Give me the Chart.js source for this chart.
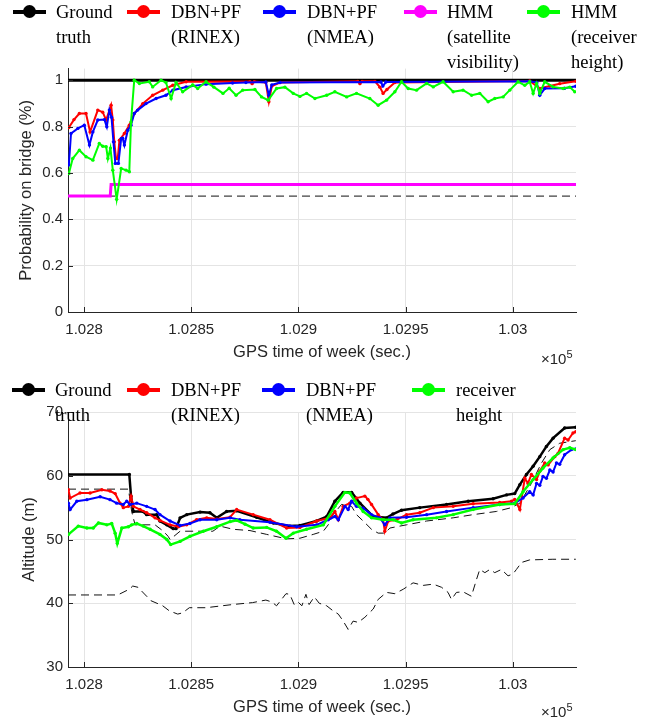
<!DOCTYPE html>
<html>
<head>
<meta charset="utf-8">
<script src="https://cdn.jsdelivr.net/npm/chart.js@4.4.1/dist/chart.umd.min.js"></script>
<style>
  body { margin: 0; background: #fff; width: 654px; height: 721px; overflow: hidden; position: relative; }
  canvas { position: absolute; left: 0; }
  #topChart { top: 0; }
  #altChart { top: 375px; }
  .leg { position: absolute; font-family: "Liberation Serif", "Times New Roman", serif; font-size: 18.5px; line-height: 25px; color: #000; white-space: nowrap; }
  .mk { position: absolute; width: 33px; height: 4px; }
  .mk i { position: absolute; left: 10px; top: -5px; width: 13px; height: 13px; border-radius: 50%; background: inherit; }
  .exp { position: absolute; font-family: "Liberation Sans", Arial, sans-serif; font-size: 15px; color: #262626; }
  .exp sup { font-size: 11px; }
</style>
</head>
<body>
<canvas id="topChart" width="654" height="370"></canvas>
<canvas id="altChart" width="654" height="346"></canvas>
<div class="exp" style="left:541px; top:348px">×10<sup>5</sup></div>
<div class="exp" style="left:541px; top:701px">×10<sup>5</sup></div>
<script>
// ---- axis ticks ----
const xTickVals = [102800, 102850, 102900, 102950, 103000];
const xTickLabels = ['1.028', '1.0285', '1.029', '1.0295', '1.03'];
const probTicks = [0, 0.2, 0.4, 0.6, 0.8, 1];
const probLabels = ['0', '0.2', '0.4', '0.6', '0.8', '1'];
const altTicks = [30, 40, 50, 60, 70];

// ---- top: probability on bridge ----
const gtTopT = [102792.5, 103029.5];
const gtTopV = [1, 1];
const rinexTopT = [102792.9, 102795.3, 102797.8, 102800.9, 102802.8, 102806.4, 102808.7, 102810.3, 102812.6, 102813.4,
  102814.1, 102814.9, 102815.7, 102816.5, 102818.8, 102821.1, 102823.4, 102827.4, 102832.0, 102836.7,
  102841.4, 102847.6, 102877.4, 102878.4, 102879.4, 102884.8, 102886.2, 102887.6, 102891.4, 102927.7,
  102928.7, 102929.7, 102935.7, 102938.0, 102939.5, 102941.3, 102945.0, 103007.9, 103012.6, 103017.3,
  103021.9, 103029.4];
const rinexTopV = [0.796, 0.83, 0.856, 0.856, 0.777, 0.871, 0.862, 0.828, 0.892, 0.828,
  0.734, 0.662, 0.662, 0.741, 0.770, 0.806, 0.856, 0.899, 0.935, 0.957,
  0.978, 0.993, 0.994, 0.985, 0.994, 0.990, 0.907, 0.975, 0.990, 0.995,
  0.985, 0.995, 0.995, 0.970, 0.943, 0.960, 0.990, 0.997, 0.964, 0.975,
  0.985, 0.995];
const nmeaTopT = [102792.9, 102793.9, 102797.1, 102800.1, 102802.5, 102804.1, 102806.4, 102809.5, 102810.6, 102811.8,
  102812.8, 102813.7, 102814.6, 102816.0, 102817.3, 102818.0, 102818.8, 102820.4, 102821.9, 102823.4,
  102825.0, 102828.9, 102833.6, 102838.2, 102841.4, 102847.6, 102856.9, 102869.3, 102875.5, 102884.8,
  102886.2, 102887.6, 102891.4, 102938.5, 102939.4, 102940.8, 103007.9, 103011.2, 103012.6, 103014.9,
  103024.2, 103029.4];
const nmeaTopV = [0.634, 0.770, 0.792, 0.806, 0.720, 0.777, 0.828, 0.830, 0.799, 0.871,
  0.840, 0.734, 0.641, 0.641, 0.748, 0.750, 0.720, 0.784, 0.806, 0.856,
  0.871, 0.899, 0.921, 0.935, 0.957, 0.971, 0.983, 0.988, 0.990, 0.992,
  0.935, 0.980, 0.990, 0.992, 0.975, 0.992, 0.995, 0.990, 0.935, 0.964,
  0.965, 0.974];
const visTopT = [102792.5, 102812.2, 102812.6, 103029.5];
const visTopV = [0.5, 0.5, 0.55, 0.55];
const heightTopT = [102792.9, 102794.7, 102797.8, 102800.9, 102804.1, 102807.1, 102808.7, 102810.3, 102811.1, 102812.3,
  102813.4, 102815.2, 102817.3, 102819.6, 102821.1, 102821.9, 102823.4, 102825.8, 102830.4, 102832.0,
  102835.9, 102838.2, 102840.6, 102842.9, 102846.0, 102850.7, 102853.0, 102856.9, 102860.6, 102864.8,
  102867.7, 102870.9, 102874.0, 102879.7, 102882.8, 102885.9, 102889.8, 102893.7, 102897.6, 102900.7,
  102903.8, 102907.7, 102913.2, 102917.0, 102922.5, 102927.1, 102933.3, 102937.2, 102941.1, 102945.0,
  102948.1, 102951.2, 102955.1, 102959.8, 102962.9, 102967.5, 102972.2, 102976.8, 102980.8, 102984.6,
  102988.5, 102991.6, 102995.5, 102998.6, 103002.5, 103005.6, 103007.9, 103009.5, 103011.1, 103012.6,
  103014.9, 103018.8, 103023.5, 103026.6, 103028.9];
const heightTopV = [0.598, 0.662, 0.698, 0.670, 0.655, 0.727, 0.715, 0.713, 0.662, 0.707,
  0.612, 0.486, 0.619, 0.612, 0.605, 0.820, 1.000, 0.986, 0.993, 0.971,
  1.000, 0.990, 0.921, 0.990, 0.950, 0.980, 0.964, 0.993, 0.970, 0.943,
  0.965, 0.935, 0.957, 0.960, 0.928, 0.914, 0.964, 0.970, 0.943, 0.930,
  0.943, 0.921, 0.935, 0.950, 0.928, 0.943, 0.921, 0.892, 0.914, 0.950,
  0.993, 0.964, 0.957, 0.986, 0.971, 0.993, 0.950, 0.957, 0.935, 0.943,
  0.907, 0.921, 0.928, 0.957, 0.993, 0.978, 0.993, 0.943, 0.986, 0.943,
  0.993, 0.971, 0.964, 0.970, 0.950];
const threshT = [102792.5, 103029.5];
const threshV = [0.5, 0.5];

// ---- bottom: altitude ----
const gtAltT = [102792.5, 102821.1, 102821.9, 102823.0, 102827.5, 102829.2, 102833.9, 102835.4, 102838.6, 102841.6,
  102842.9, 102844.8, 102847.9, 102854.1, 102858.7, 102861.9, 102866.5, 102871.2, 102880.5, 102888.3,
  102896.0, 102900.7, 102908.5, 102913.2, 102917.0, 102920.9, 102924.8, 102928.7, 102934.9, 102941.1,
  102944.1, 102948.1, 102956.6, 102969.1, 102979.2, 102990.8, 102997.1, 103000.9, 103003.3, 103006.4,
  103009.5, 103012.6, 103015.7, 103018.8, 103024.2, 103029.4];
const gtAltV = [60.2, 60.2, 56.8, 54.4, 54.4, 53.9, 53.9, 52.9, 52.3, 51.7,
  51.7, 53.4, 53.9, 54.3, 54.2, 53.4, 54.4, 54.5, 53.5, 52.6,
  52.1, 52.2, 52.9, 53.6, 56.0, 57.4, 57.4, 55.7, 53.6, 53.4,
  54.0, 54.6, 55.0, 55.5, 56.0, 56.4, 57.0, 57.2, 58.6, 60.2,
  61.5, 63.0, 64.6, 65.9, 67.5, 67.6];
const rinexAltT = [102792.7, 102793.5, 102798.1, 102802.8, 102808.3, 102812.1, 102814.5, 102816.8, 102818.3, 102820.7,
  102821.9, 102823.0, 102826.1, 102829.2, 102833.1, 102835.4, 102840.1, 102844.0, 102847.9, 102852.5,
  102857.2, 102861.9, 102868.1, 102871.2, 102878.9, 102886.7, 102894.5, 102900.7, 102908.5, 102914.7,
  102917.0, 102918.6, 102920.9, 102924.0, 102927.1, 102931.0, 102932.4, 102934.1, 102937.2, 102939.5,
  102940.3, 102941.9, 102945.8, 102950.4, 102956.6, 102962.9, 102972.2, 102981.5, 102993.9, 102999.4,
  103000.9, 103003.3, 103005.6, 103007.1, 103008.7, 103011.1, 103012.6, 103014.9, 103016.5, 103019.6,
  103021.1, 103024.2, 103025.8, 103028.1, 103029.4];
const rinexAltV = [57.8, 56.5, 57.3, 57.3, 57.8, 57.6, 57.2, 55.7, 55.0, 55.2,
  56.8, 55.2, 54.7, 54.2, 53.4, 53.0, 52.3, 52.0, 52.3, 53.1,
  53.4, 53.2, 53.5, 54.7, 53.9, 53.1, 51.8, 51.9, 52.9, 53.4,
  54.4, 53.1, 55.2, 55.7, 56.5, 56.8, 56.3, 55.5, 53.9, 53.1,
  51.3, 52.9, 53.1, 53.9, 54.2, 55.0, 55.2, 55.6, 55.8, 56.0,
  56.3, 54.7, 59.6, 58.8, 60.2, 59.4, 60.7, 62.0, 61.7, 63.0,
  63.5, 65.9, 65.6, 66.7, 66.9];
const nmeaAltT = [102792.7, 102793.5, 102796.6, 102801.3, 102807.5, 102812.1, 102815.2, 102818.3, 102819.9, 102821.4,
  102824.6, 102829.2, 102833.1, 102835.4, 102840.1, 102844.8, 102849.4, 102854.1, 102861.9, 102868.1,
  102872.7, 102886.7, 102899.2, 102908.5, 102913.9, 102917.0, 102918.6, 102921.7, 102923.2, 102924.8,
  102927.1, 102930.2, 102934.1, 102938.0, 102940.3, 102942.7, 102950.4, 102959.8, 102969.1, 102981.5,
  102993.9, 103000.9, 103004.8, 103007.9, 103009.5, 103011.1, 103012.6, 103014.1, 103015.7, 103017.3,
  103018.8, 103020.4, 103021.9, 103024.2, 103027.4, 103029.4];
const nmeaAltV = [55.7, 54.7, 56.0, 56.25, 56.7, 56.25, 55.7, 55.5, 56.0, 55.5,
  55.7, 55.2, 54.7, 53.9, 52.9, 52.2, 52.5, 53.1, 53.1, 53.4,
  53.1, 52.7, 52.0, 52.3, 53.1, 53.6, 53.1, 55.2, 54.7, 56.0,
  55.2, 54.9, 53.9, 53.4, 52.3, 53.4, 53.5, 53.9, 54.4, 55.0,
  55.5, 55.7, 56.5, 57.5, 57.0, 58.8, 58.5, 59.9, 59.6, 60.9,
  60.6, 62.0, 61.8, 63.3, 64.1, 64.2];
const heightAltT = [102792.7, 102797.3, 102801.3, 102804.3, 102806.7, 102810.6, 102812.9, 102814.5, 102815.5, 102817.6,
  102820.7, 102822.2, 102824.6, 102827.6, 102830.8, 102835.4, 102838.6, 102840.4, 102844.8, 102849.4,
  102855.6, 102861.9, 102868.1, 102871.2, 102875.1, 102878.9, 102885.2, 102889.8, 102894.2, 102897.6,
  102903.8, 102911.6, 102917.0, 102921.7, 102924.0, 102927.1, 102930.2, 102934.1, 102939.5, 102944.2,
  102948.1, 102953.5, 102964.4, 102972.2, 102981.5, 102993.9, 103000.9, 103004.8, 103009.5, 103014.1,
  103018.8, 103023.5, 103026.6, 103029.4];
const heightAltV = [50.8, 52.1, 51.8, 51.8, 52.6, 52.3, 52.5, 51.0, 49.4, 51.8,
  52.0, 52.3, 52.5, 52.1, 51.6, 50.8, 50.0, 49.2, 49.7, 50.5,
  51.3, 52.0, 52.8, 53.0, 52.4, 51.8, 51.9, 51.3, 50.2, 51.0,
  51.6, 52.3, 55.2, 57.4, 57.3, 55.7, 54.4, 53.4, 53.1, 53.1,
  52.6, 53.1, 53.4, 53.9, 54.7, 55.5, 55.6, 57.5, 59.4, 61.2,
  62.8, 64.1, 64.4, 64.1];
const refHiT = [102792.5, 102820.7, 102822.2, 102823.8, 102833.1, 102837.0, 102839.2, 102840.1, 102844.8, 102860.1,
  102863.4, 102869.6, 102877.4, 102885.2, 102894.5, 102900.7, 102906.9, 102911.6, 102913.9, 102916.2,
  102920.1, 102924.8, 102927.1, 102930.2, 102934.1, 102937.2, 102940.3, 102942.7, 102950.4, 102959.8,
  102972.2, 102981.5, 102992.4, 102999.4, 103003.3, 103008.7, 103013.4, 103017.3, 103021.9, 103029.4];
const refHiV = [57.9, 57.9, 54.4, 52.3, 52.3, 51.3, 50.5, 50.0, 51.3, 51.3,
  52.1, 51.6, 51.4, 50.8, 50.1, 50.2, 50.8, 51.3, 52.3, 53.9,
  55.5, 55.2, 53.9, 52.9, 51.6, 51.0, 51.0, 51.8, 52.3, 52.9,
  53.4, 53.9, 54.4, 55.0, 55.7, 58.8, 62.0, 64.1, 65.1, 65.5];
const refLoT = [102792.5, 102815.7, 102821.1, 102822.7, 102825.2, 102826.6, 102831.2, 102836.7, 102839.8, 102843.7,
  102846.0, 102849.1, 102856.9, 102869.3, 102878.6, 102884.8, 102887.6, 102889.8, 102894.2, 102896.0,
  102898.0, 102899.8, 102901.6, 102903.5, 102905.0, 102907.4, 102909.7, 102913.2, 102916.2, 102918.6,
  102920.9, 102923.2, 102925.5, 102927.9, 102931.0, 102934.9, 102937.2, 102941.1, 102945.0, 102948.9,
  102953.5, 102958.2, 102962.9, 102966.8, 102969.8, 102971.4, 102973.7, 102976.8, 102980.7, 102983.1,
  102984.6, 102987.0, 102989.3, 102991.6, 102994.7, 102997.8, 103000.1, 103001.7, 103004.1, 103007.9,
  103018.7, 103029.4];
const refLoV = [41.3, 41.3, 42.2, 42.7, 42.5, 42.0, 40.4, 39.6, 38.8, 38.3,
  38.5, 39.3, 39.3, 39.8, 40.1, 40.5, 40.2, 39.6, 41.5, 41.4,
  39.8, 40.2, 39.6, 41.4, 39.8, 41.0, 40.0, 39.6, 38.8, 38.3,
  37.2, 35.9, 37.2, 37.0, 37.8, 39.1, 40.6, 41.7, 41.5, 42.2,
  43.2, 42.8, 43.0, 42.5, 41.7, 40.6, 41.7, 41.8, 41.1, 43.75,
  45.3, 44.8, 45.3, 44.8, 45.3, 44.3, 44.6, 45.3, 46.4, 46.8,
  46.9, 46.9];

const pts = (T, V) => T.map((t, i) => ({ x: t, y: V[i] }));

// matlab-style inward tick marks
const innerTicks = {
  id: 'innerTicks',
  afterDraw(chart) {
    const { ctx, chartArea: a, scales: { x, y } } = chart;
    ctx.save();
    ctx.strokeStyle = '#262626';
    ctx.lineWidth = 1;
    ctx.beginPath();
    x.ticks.forEach(t => {
      const p = Math.round(x.getPixelForValue(t.value)) + 0.5;
      ctx.moveTo(p, a.bottom); ctx.lineTo(p, a.bottom - 5);
    });
    y.ticks.forEach(t => {
      const p = Math.round(y.getPixelForValue(t.value)) + 0.5;
      ctx.moveTo(a.left, p); ctx.lineTo(a.left + 5, p);
    });
    ctx.stroke();
    ctx.restore();
  }
};

function series(data, color, width, dots) {
  return {
    data, borderColor: color, backgroundColor: color, borderWidth: width,
    pointRadius: dots ? 1.7 : 0, pointBorderWidth: 0, tension: 0
  };
}
function dashed(data, width) {
  return { data, borderColor: '#111', borderWidth: width, borderDash: [8, 5], pointRadius: 0, tension: 0 };
}

const tickFont = { family: '"Liberation Sans", Arial, sans-serif', size: 15 };
const titleFont = { family: '"Liberation Sans", Arial, sans-serif', size: 16.5 };

function makeChart(id, datasets, y, pad, titlePad) {
  return new Chart(document.getElementById(id), {
    type: 'line',
    data: { datasets },
    plugins: [innerTicks],
    options: {
      responsive: false, animation: false, events: [], devicePixelRatio: 1,
      layout: { padding: pad },
      plugins: { legend: { display: false }, tooltip: { enabled: false } },
      scales: {
        x: {
          type: 'linear', min: 102792.5, max: 103029.5,
          afterBuildTicks: s => { s.ticks = xTickVals.map(v => ({ value: v })); },
          afterFit: s => { s.height = 50; },
          ticks: { font: tickFont, color: '#262626', padding: 8.5, maxRotation: 0, autoSkip: false,
                   callback: (v, i) => xTickLabels[i] },
          grid: { color: '#e4e4e4', drawTicks: false },
          border: { display: true, color: '#262626', width: 1 },
          title: { display: true, text: 'GPS time of week (sec.)', font: titleFont, color: '#262626', padding: 0 }
        },
        y: {
          type: 'linear', min: y.min, max: y.max,
          afterBuildTicks: s => { s.ticks = y.ticks.map(v => ({ value: v })); },
          afterFit: s => { s.width = 68; },
          ticks: { font: tickFont, color: '#262626', padding: 5, autoSkip: false,
                   callback: (v, i) => y.labels[i] },
          grid: { color: '#e4e4e4', drawTicks: false },
          border: { display: true, color: '#262626', width: 1 },
          title: { display: true, text: y.title, font: titleFont, color: '#262626', padding: { top: titlePad, bottom: 0 } }
        }
      }
    }
  });
}

makeChart('topChart', [
  series(pts(heightTopT, heightTopV), '#00ff00', 2, true),
  series(pts(visTopT, visTopV), '#ff00ff', 3, false),
  series(pts(nmeaTopT, nmeaTopV), '#0000ff', 2, true),
  series(pts(rinexTopT, rinexTopV), '#ff0000', 2, true),
  series(pts(gtTopT, gtTopV), '#000000', 3, false),
  dashed(pts(threshT, threshV), 1)
], { min: 0, max: 1.05, ticks: probTicks, labels: probLabels, title: 'Probability on bridge (%)' },
   { left: 0, right: 78, top: 68.6, bottom: 8 }, 17);

makeChart('altChart', [
  series(pts(heightAltT, heightAltV), '#00ff00', 2.5, true),
  series(pts(nmeaAltT, nmeaAltV), '#0000ff', 2, true),
  series(pts(rinexAltT, rinexAltV), '#ff0000', 2, true),
  series(pts(gtAltT, gtAltV), '#000000', 2.5, true),
  dashed(pts(refHiT, refHiV), 1),
  dashed(pts(refLoT, refLoV), 1)
], { min: 30, max: 70, ticks: altTicks, labels: altTicks.map(String), title: 'Altitude (m)' },
   { left: 0, right: 78, top: 37, bottom: 4 }, 20);

// ---- legends (html) ----
const topLegend = [
  { color: '#000000', mk: 13, tx: 56, lines: ['Ground', 'truth'] },
  { color: '#ff0000', mk: 127, tx: 171, lines: ['DBN+PF', '(RINEX)'] },
  { color: '#0000ff', mk: 263, tx: 307, lines: ['DBN+PF', '(NMEA)'] },
  { color: '#ff00ff', mk: 404, tx: 447, lines: ['HMM', '(satellite', 'visibility)'] },
  { color: '#00ff00', mk: 527, tx: 571, lines: ['HMM', '(receiver', 'height)'] }
];
const altLegend = [
  { color: '#000000', mk: 12, tx: 55, lines: ['Ground', 'truth'] },
  { color: '#ff0000', mk: 127, tx: 171, lines: ['DBN+PF', '(RINEX)'] },
  { color: '#0000ff', mk: 262, tx: 306, lines: ['DBN+PF', '(NMEA)'] },
  { color: '#00ff00', mk: 412, tx: 456, lines: ['receiver', 'height'] }
];
function drawLegend(items, cy) {
  items.forEach(it => {
    const m = document.createElement('div');
    m.className = 'mk';
    m.style.left = it.mk + 'px';
    m.style.top = (cy - 2) + 'px';
    m.style.background = it.color;
    m.appendChild(document.createElement('i'));
    document.body.appendChild(m);
    const t = document.createElement('div');
    t.className = 'leg';
    t.style.left = it.tx + 'px';
    t.style.top = (cy - 12.5) + 'px';
    t.innerHTML = it.lines.join('<br>');
    document.body.appendChild(t);
  });
}
drawLegend(topLegend, 12);
drawLegend(altLegend, 390);
</script>
</body>
</html>
